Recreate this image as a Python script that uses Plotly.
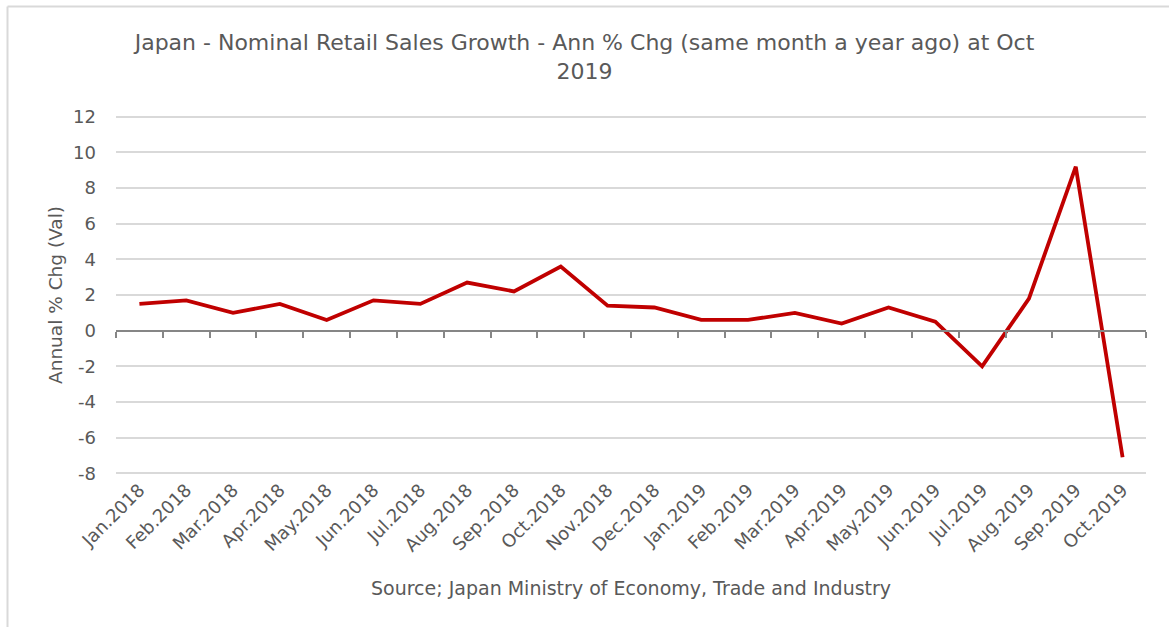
import plotly.graph_objects as go

categories = ["Jan.2018", "Feb.2018", "Mar.2018", "Apr.2018", "May.2018", "Jun.2018",
              "Jul.2018", "Aug.2018", "Sep.2018", "Oct.2018", "Nov.2018", "Dec.2018",
              "Jan.2019", "Feb.2019", "Mar.2019", "Apr.2019", "May.2019", "Jun.2019",
              "Jul.2019", "Aug.2019", "Sep.2019", "Oct.2019"]
values = [1.5, 1.7, 1.0, 1.5, 0.6, 1.7, 1.5, 2.7, 2.2, 3.6, 1.4, 1.3,
          0.6, 0.6, 1.0, 0.4, 1.3, 0.5, -2.0, 1.8, 9.2, -7.1]
y_ticks = [-8, -6, -4, -2, 0, 2, 4, 6, 8, 10, 12]
y_tick_labels = ["-8", "-6", "-4", "-2", "0", "2", "4", "6", "8", "10", "12"]

FONT = "DejaVu Sans, Liberation Sans, Arial, sans-serif"
TXT = "#595959"

W, H = 1169, 627
ML, MR, MT, MB = 116, 23, 115, 152
PW, PH = W - ML - MR, H - MT - MB
YMIN, YMAX = -8.1, 12.1

def px_x(p):
    return (p - ML) / PW

def px_y(p):
    return (H - MB - p) / PH

fig = go.Figure()
fig.add_trace(go.Scatter(x=categories, y=values, mode="lines",
                         line=dict(color="#C00000", width=3.8),
                         showlegend=False, hoverinfo="x+y"))
# helper trace for the zero-line axis with boundary ticks
fig.add_trace(go.Scatter(x=categories, y=values, xaxis="x2", mode="lines",
                         line=dict(width=0), opacity=0, showlegend=False,
                         hoverinfo="skip"))

fig.update_layout(
    width=W, height=H,
    margin=dict(l=ML, r=MR, t=MT, b=MB),
    paper_bgcolor="white", plot_bgcolor="white",
    font=dict(family=FONT, color=TXT),
    title=dict(text="Japan - Nominal Retail Sales Growth - Ann % Chg (same month a year ago) at Oct<br>2019",
               x=0.5, xanchor="center", xref="container",
               y=1 - 50 / H, yanchor="middle", yref="container",
               font=dict(size=22, color=TXT, family=FONT)),
    xaxis=dict(type="category", range=[-0.5, len(categories) - 0.5],
               tickangle=-45, showgrid=False, showline=False, ticks="",
               zeroline=False, tickfont=dict(size=18, color=TXT, family=FONT)),
    xaxis2=dict(type="category", overlaying="x", anchor="free",
                position=(0 - YMIN) / (YMAX - YMIN),
                range=[-0.5, len(categories) - 0.5],
                showgrid=False, showline=True, linecolor="#868686", linewidth=2,
                ticks="outside", tickson="boundaries", ticklen=6,
                tickcolor="#868686", tickwidth=2, showticklabels=False,
                zeroline=False),
    yaxis=dict(range=[YMIN, YMAX], tickvals=y_ticks, ticktext=y_tick_labels,
               showgrid=True, gridcolor="#d9d9d9", gridwidth=1.5,
               zeroline=False, showline=False, ticks="",
               ticklabelstandoff=19,
               tickfont=dict(size=18, color=TXT, family=FONT)),
    annotations=[
        dict(text="Annual % Chg (Val)", textangle=-90, xref="paper", yref="paper",
             x=px_x(55), y=0.5, xanchor="center", yanchor="middle", showarrow=False,
             font=dict(size=18.5, color=TXT, family=FONT)),
        dict(text="Source; Japan Ministry of Economy, Trade and Industry",
             xref="paper", yref="paper", x=0.5, y=px_y(588),
             xanchor="center", yanchor="middle", showarrow=False,
             font=dict(size=19, color=TXT, family=FONT)),
    ],
    shapes=[
        dict(type="line", xref="paper", yref="paper",
             x0=px_x(7.5), x1=px_x(W + 5), y0=px_y(6.5), y1=px_y(6.5),
             line=dict(color="#d9d9d9", width=2)),
        dict(type="line", xref="paper", yref="paper",
             x0=px_x(7.5), x1=px_x(7.5), y0=px_y(6.5), y1=px_y(H + 5),
             line=dict(color="#d9d9d9", width=2)),
    ],
)

fig.write_html("out.html")
